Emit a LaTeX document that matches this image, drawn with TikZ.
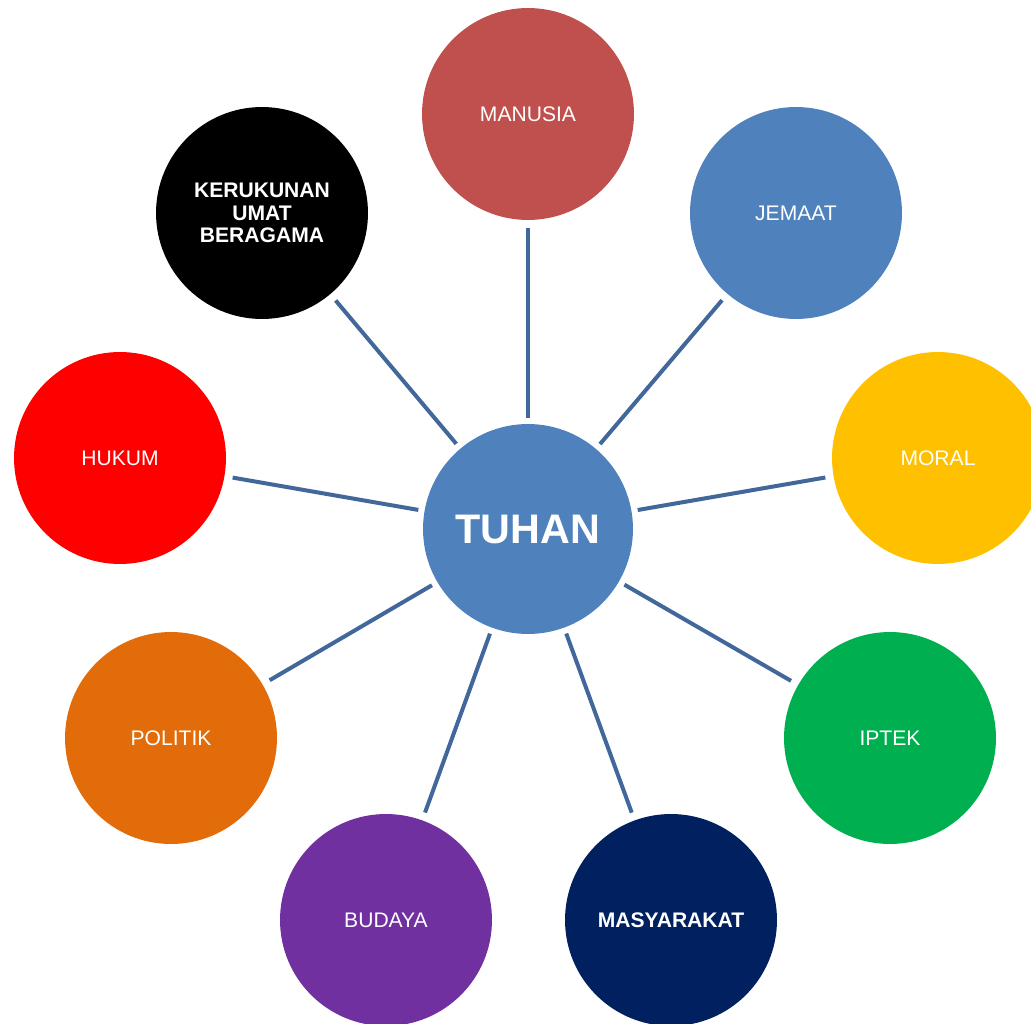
\documentclass[tikz,border=0pt]{standalone}
\usepackage{fontspec}
\setmainfont{Liberation Sans}
\usepackage{tikz}
\usetikzlibrary{positioning}
\definecolor{hubBlue}{HTML}{4F81BD}
\definecolor{linkBlue}{HTML}{41679B}
\definecolor{manusiaRed}{HTML}{C0504D}
\definecolor{jemaatBlue}{HTML}{4F81BD}
\definecolor{moralGold}{HTML}{FFC000}
\definecolor{iptekGreen}{HTML}{00B050}
\definecolor{masyarakatNavy}{HTML}{002060}
\definecolor{budayaPurple}{HTML}{7030A0}
\definecolor{politikOrange}{HTML}{E36C0A}
\definecolor{hukumRed}{HTML}{FF0000}

\begin{document}
\begin{tikzpicture}
[x=0.02cm, y=-0.02cm,
bubble/.style={circle, minimum size=4.24cm, inner sep=0mm, text=white, align=center, font=\fontsize{12}{13}\selectfont},
boldbubble/.style={bubble, font=\fontsize{12}{13}\selectfont\bfseries},
hub/.style={bubble, minimum size=4.2cm, font=\fontsize{23.5}{28}\selectfont\bfseries},
link/.style={draw=linkBlue, line width=0.08cm, shorten <=0.12cm, shorten >=0.16cm}]

\clip (0,0) rectangle (1031,1024);

\node[hub, fill=hubBlue] (tuhan) at (528,529) {TUHAN};
\node[bubble, fill=manusiaRed] (manusia) at (528,114) {MANUSIA};
\node[bubble, fill=jemaatBlue] (jemaat) at (796,213) {JEMAAT};
\node[bubble, fill=moralGold] (moral) at (938,458) {MORAL};
\node[bubble, fill=iptekGreen] (iptek) at (890,738) {IPTEK};
\node[boldbubble, fill=masyarakatNavy] (masyarakat) at (671,920) {MASYARAKAT};
\node[bubble, fill=budayaPurple] (budaya) at (386,920) {BUDAYA};
\node[bubble, fill=politikOrange] (politik) at (171,738) {POLITIK};
\node[bubble, fill=hukumRed] (hukum) at (120,458) {HUKUM};
\node[boldbubble, fill=black] (kerukunan) at (262,213) {KERUKUNAN\\UMAT\\BERAGAMA};

\foreach \outer in {manusia, jemaat, moral, iptek, masyarakat, budaya, politik, hukum, kerukunan}
  \draw[link] (tuhan) -- (\outer);
\end{tikzpicture}
\end{document}
